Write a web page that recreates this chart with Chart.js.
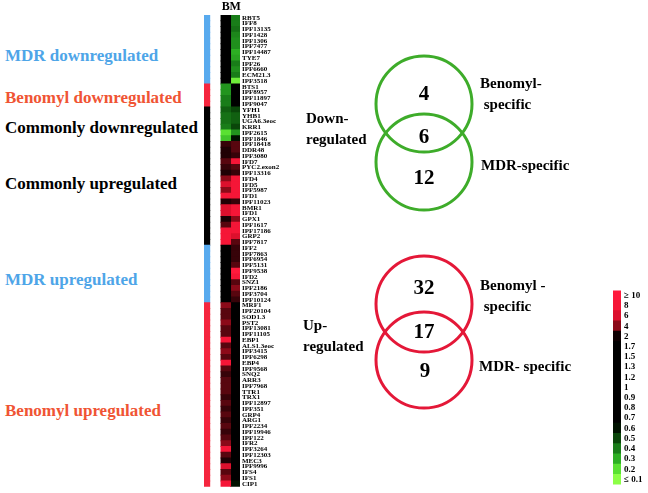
<!DOCTYPE html>
<html>
<head>
<meta charset="utf-8">
<script src="https://cdn.jsdelivr.net/npm/chart.js@4.4.1/dist/chart.umd.min.js"></script>
<style>
  html, body { margin: 0; padding: 0; background: #fff; }
  #page {
    position: relative; width: 648px; height: 493px; overflow: hidden;
    font-family: "Liberation Serif", "Times New Roman", serif; font-weight: bold;
  }
  canvas { position: absolute; }
  .lbl { position: absolute; white-space: pre; line-height: 1; transform: translateY(-50%); }
  .num { transform: translate(-50%, -50%); font-size: 21px; }
</style>
</head>
<body>
<div id="page">
  <canvas id="heat" width="116" height="493" style="left:204px;top:0"></canvas>
  <canvas id="vennDown" width="120" height="174" style="left:364px;top:46px"></canvas>
  <canvas id="vennUp" width="120" height="168" style="left:364px;top:248px"></canvas>
  <canvas id="scale" width="35" height="211" style="left:613px;top:282px"></canvas>
</div>
<script>
// --- data ---
const columnLabels = ['B', 'M'];

const geneNames = [
  'RBT5', 'IFF8', 'IPF13135', 'IPF1428', 'IPF1306', 'IPF7477', 'IPF14487', 'TYE7', 'IPF26', 'IPF6660',
  'ECM21.3', 'IPF3518', 'BTS1', 'IPF8957', 'IPF11897', 'IPF9047', 'YFH1', 'YHB1', 'UGA6.3eoc', 'KRR1',
  'IPF2615', 'IPF1846', 'IPF18418', 'DDR48', 'IPF3080', 'IFD7', 'PYC2.exon2', 'IPF13316', 'IFD4', 'IFD5',
  'IPF5987', 'IFD1', 'IPF11023', 'BMR1', 'IFD1', 'GPX1', 'IPF1617', 'IPF17186', 'GRP2', 'IPF7817',
  'IFF2', 'IPF7863', 'IPF6954', 'IPF5131', 'IPF9538', 'IFD2', 'SNZ1', 'IPF2186', 'IPF3704', 'IPF10124',
  'MRF1', 'IPF20104', 'SOD1.3', 'PST2', 'IPF13081', 'IPF11105', 'EBP1', 'ALS1.3eoc', 'IPF3415', 'IPF6298',
  'EBP4', 'IPF9568', 'SNQ2', 'ARR3', 'IPF7968', 'TTR1', 'TRX1', 'IPF12897', 'IPF351', 'GRP4',
  'ARG1', 'IPF2234', 'IPF19946', 'IPF122', 'IFR2', 'IPF3264', 'IPF12303', 'MEC3', 'IPF9996', 'IFS4',
  'IFS1', 'CIP1'
];

// fold change, benomyl (B column)
const benomylFold = [
  1, 1, 1, 1, 1, 1, 1, 1, 1, 1,
  1, 1, 0.35, 0.35, 0.4, 0.4, 0.45, 0.42, 0.42, 0.4,
  0.2, 0.25, 2.5, 2.2, 2.2, 3, 2.5, 2.2, 4, 6,
  4, 8, 2.2, 6, 6, 2.1, 3, 8, 8, 8,
  1.2, 1.1, 1.1, 1.1, 1.2, 1.1, 1.1, 1.1, 1.1, 1.1,
  4, 3, 3, 4, 3, 3, 8, 3, 4, 3,
  8, 3, 2.5, 3, 3, 3, 2.5, 3, 2.5, 3,
  2.5, 3, 2.5, 3, 4, 8, 3, 2.2, 6, 3,
  4, 8
];

// fold change, MDR (M column)
const mdrFold = [
  0.4, 0.4, 0.42, 0.38, 0.36, 0.36, 0.3, 0.32, 0.4, 0.36,
  0.4, 0.15, 0.8, 1, 1, 0.8, 0.5, 0.45, 0.45, 0.5,
  0.35, 0.6, 3, 3, 2.5, 8, 3, 2.5, 8, 8,
  8, 8, 2.5, 8, 8, 4, 8, 8, 6, 3,
  2.5, 2.5, 2.5, 3, 10, 8, 3, 4, 3, 2.5,
  1.2, 1.1, 1.1, 1.1, 1.1, 1.1, 1.2, 1.1, 1.1, 1.1,
  1.1, 1.1, 1.1, 1.1, 1.1, 1.1, 1.1, 1.1, 1.1, 1.1,
  1.1, 1.1, 1.1, 1.1, 1.1, 1.1, 1.1, 1.1, 1.1, 1.1,
  1.1, 0.6
];

const groupNames = ['MDR downregulated', 'Benomyl downregulated', 'Commonly downregulated',
  'Commonly upregulated', 'MDR upregulated', 'Benomyl upregulated'];
const groupSizes = [12, 4, 6, 18, 10, 32];

const vennGroups = ['Down-\nregulated', 'Up-\nregulated'];
const vennSetLabels = [['Benomyl-\n specific', 'MDR-specific'], ['Benomyl -\n specific', 'MDR- specific']];
const vennDownCounts = [4, 6, 12];   // benomyl only, both, MDR only
const vennUpCounts = [32, 17, 9];

const scaleLabels = ['\u2265 10', '8', '6', '4', '2', '1.7', '1.5', '1.3', '1.2', '1',
  '0.9', '0.8', '0.7', '0.6', '0.5', '0.4', '0.3', '0.2', '\u2264 0.1'];
const scaleValues = [10, 8, 6, 4, 2, 1.7, 1.5, 1.3, 1.2, 1, 0.9, 0.8, 0.7, 0.6, 0.5, 0.4, 0.3, 0.2, 0.1];

// --- styles ---
const FONT = '"Liberation Serif", "Times New Roman", serif';
const BLUE = 'rgb(88,170,238)';
const RED = 'rgb(245,38,62)';
const groupBarColors = [BLUE, RED, '#000', '#000', BLUE, RED];
const groupTextColors = ['rgb(78,165,232)', 'rgb(240,84,52)', '#000', '#000', 'rgb(78,165,232)', 'rgb(240,84,52)'];
const groupTextY = [55, 97, 127, 183, 279, 410];
const GREEN_RING = 'rgb(62,172,42)';
const RED_RING = 'rgb(228,24,56)';

// colour stops on a log scale (value -> rgb)
const stops = [
  [0.1, [140, 255, 70]], [0.2, [90, 225, 50]], [0.3, [45, 175, 35]], [0.4, [25, 125, 25]],
  [0.5, [10, 70, 10]], [0.6, [0, 18, 0]], [0.7, [0, 0, 0]], [1.7, [0, 0, 0]], [2, [15, 0, 2]],
  [4, [140, 10, 25]], [6, [220, 16, 45]], [8, [245, 22, 55]], [10, [255, 26, 60]]
];
function foldColor(v) {
  if (v <= stops[0][0]) return `rgb(${stops[0][1].join(',')})`;
  for (let i = 1; i < stops.length; i++) {
    if (v <= stops[i][0]) {
      const [v0, c0] = stops[i - 1], [v1, c1] = stops[i];
      const t = Math.log(v / v0) / Math.log(v1 / v0);
      return 'rgb(' + c0.map((c, k) => Math.round(c + (c1[k] - c) * t)).join(',') + ')';
    }
  }
  return `rgb(${stops[stops.length - 1][1].join(',')})`;
}

const geneGroup = [];
groupSizes.forEach((n, g) => { for (let i = 0; i < n; i++) geneGroup.push(g); });

// --- heatmap ---
const cellOpts = { barPercentage: 1, categoryPercentage: 1, grouped: false, borderWidth: 0, inflateAmount: 0.5 };
new Chart(document.getElementById('heat'), {
  type: 'bar',
  data: {
    labels: geneNames,
    datasets: [
      { ...cellOpts, label: 'group', data: geneNames.map(() => [-1.75, -1.2]),
        backgroundColor: geneGroup.map(g => groupBarColors[g]) },
      { ...cellOpts, label: columnLabels[0], data: geneNames.map(() => [0, 1]),
        backgroundColor: benomylFold.map(foldColor) },
      { ...cellOpts, label: columnLabels[1], data: geneNames.map(() => [1, 2]),
        backgroundColor: mdrFold.map(foldColor) }
    ]
  },
  options: {
    indexAxis: 'y',
    responsive: false,
    animation: false,
    layout: { padding: { top: 0, bottom: 4, left: 0, right: 0 } },
    plugins: { legend: { display: false }, tooltip: { enabled: false } },
    scales: {
      x: {
        type: 'linear', position: 'top', min: -1.8, max: 2,
        grid: { display: false, drawTicks: false }, border: { display: false },
        afterBuildTicks: s => { s.ticks = columnLabels.map((_, i) => ({ value: i + 0.5 })); },
        afterFit: s => { s.height = 15; },
        ticks: {
          autoSkip: false, maxRotation: 0, padding: 1, color: '#000',
          font: { family: FONT, size: 12, weight: 'bold' },
          callback: (v, i) => columnLabels[i]
        }
      },
      y: {
        position: 'right',
        grid: { display: false, drawTicks: false }, border: { display: false },
        afterFit: s => { s.width = 80; },
        ticks: {
          autoSkip: false, padding: 2, color: '#000',
          font: { family: FONT, size: 7, weight: 'bold' }
        }
      }
    }
  }
});

// --- text labels ---
const page = document.getElementById('page');
function addText(text, x, y, size, color, cls) {
  const d = document.createElement('div');
  d.className = 'lbl' + (cls ? ' ' + cls : '');
  d.style.left = x + 'px';
  d.style.top = y + 'px';
  d.style.fontSize = size + 'px';
  d.style.color = color || '#000';
  d.textContent = text;
  page.appendChild(d);
}
groupNames.forEach((name, g) => addText(name, 5, groupTextY[g], 17, groupTextColors[g]));

// --- venn diagrams ---
function venn(id, color) {
  new Chart(document.getElementById(id), {
    type: 'scatter',
    data: { datasets: [{ data: [{ x: 0, y: 0 }, { x: 0, y: 1 }], clip: false }] },
    options: {
      responsive: false,
      animation: false,
      layout: { padding: 0, autoPadding: false },
      elements: { point: { radius: 48, hoverRadius: 48, borderWidth: 3, hoverBorderWidth: 3,
        borderColor: color, backgroundColor: 'rgba(0,0,0,0)' } },
      plugins: { legend: { display: false }, tooltip: { enabled: false } },
      events: [],
      scales: {
        x: { display: false, min: -1, max: 1 },
        y: { display: false, min: -1, max: 2, reverse: true }
      }
    }
  });
}
venn('vennDown', GREEN_RING);
venn('vennUp', RED_RING);

const vennNumPos = [[[424, 93], [424, 136], [424, 177]], [[424, 287], [424, 331], [425, 370]]];
[vennDownCounts, vennUpCounts].forEach((counts, k) => {
  counts.forEach((c, i) => addText(String(c), vennNumPos[k][i][0], vennNumPos[k][i][1], 21, '#000', 'num'));
});
const vennGroupPos = [[306, 118], [303, 325]];
vennGroups.forEach((g, k) => {
  g.split('\n').forEach((line, j) => addText(line, vennGroupPos[k][0], vennGroupPos[k][1] + j * 21, 15));
});
const vennSetPos = [[[480, 83], [481, 165]], [[480, 285], [479, 366]]];
vennSetLabels.forEach((labels, k) => {
  labels.forEach((lab, i) => {
    lab.split('\n').forEach((line, j) => addText(line, vennSetPos[k][i][0], vennSetPos[k][i][1] + j * 21, 15));
  });
});

// --- colour key ---
new Chart(document.getElementById('scale'), {
  type: 'bar',
  data: {
    labels: scaleLabels,
    datasets: [{ data: scaleValues.map(() => 1), backgroundColor: scaleValues.map(foldColor),
      barPercentage: 1, categoryPercentage: 1, borderWidth: 0, inflateAmount: 0.5 }]
  },
  options: {
    indexAxis: 'y',
    responsive: false,
    animation: false,
    layout: { padding: { top: 5, bottom: 5, left: 0, right: 0 } },
    plugins: { legend: { display: false }, tooltip: { enabled: false } },
    scales: {
      x: { display: false, min: 0, max: 1 },
      y: {
        position: 'right',
        grid: { display: false, drawTicks: false }, border: { display: false },
        afterFit: s => { s.width = 27; },
        ticks: { autoSkip: false, padding: 3, color: '#000', font: { family: FONT, size: 9, weight: 'bold' } }
      }
    }
  }
});
</script>
</body>
</html>
